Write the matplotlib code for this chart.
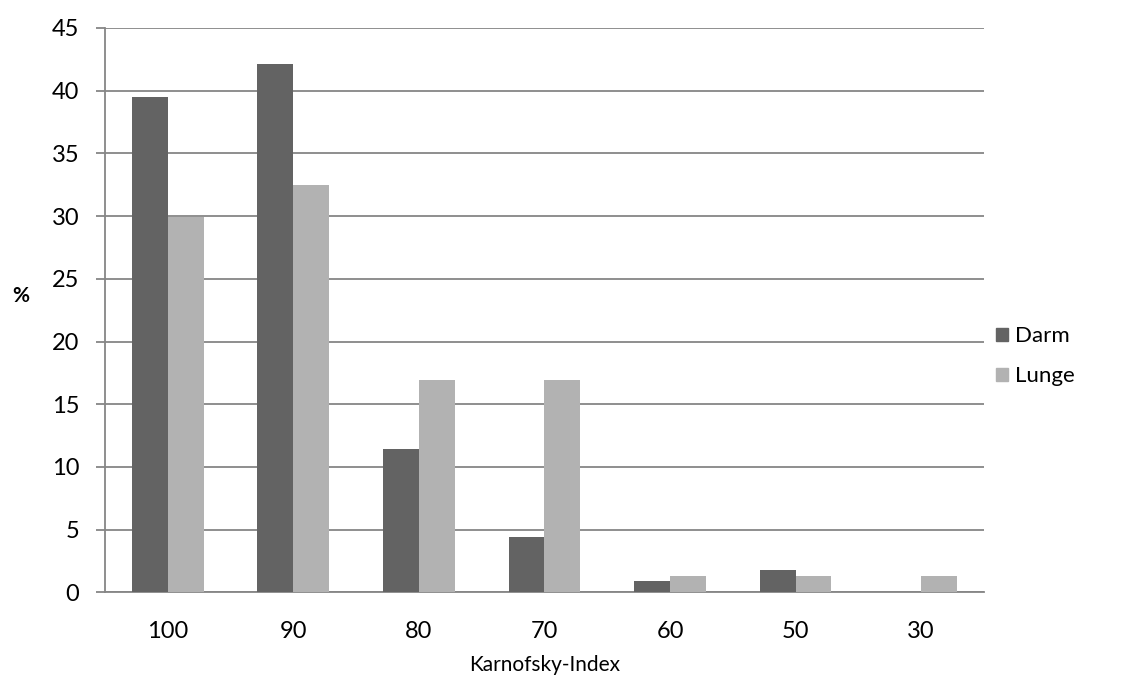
import numpy as np
import matplotlib.pyplot as plt
from matplotlib.patches import Patch

plt.rcParams['font.family'] = ['Lato', 'DejaVu Sans']

categories = ['100', '90', '80', '70', '60', '50', '30']
darm = [39.5, 42.1, 11.4, 4.4, 0.9, 1.8, 0.0]
lunge = [29.9, 32.5, 16.9, 16.9, 1.3, 1.3, 1.3]

col_darm = '#636363'
col_lunge = '#b2b2b2'
col_axis = '#868686'

fig = plt.figure(figsize=(11.31, 6.89), dpi=100)
ax = fig.add_axes([0.0928, 0.1403, 0.7772, 0.8191])

x = np.arange(len(categories))
w = 0.2857
ax.bar(x - w / 2, darm, w, color=col_darm, zorder=3)
ax.bar(x + w / 2, lunge, w, color=col_lunge, zorder=3)

ax.set_xlim(-0.5, len(categories) - 0.5)
ax.set_ylim(0, 45)
ax.set_yticks(np.arange(0, 46, 5))
ax.set_xticks(x)
ax.set_xticklabels(categories)
ax.yaxis.grid(True, color=col_axis, linewidth=1.3, zorder=0)

for side in ['top', 'right']:
    ax.spines[side].set_visible(False)
for side in ['left', 'bottom']:
    ax.spines[side].set_color(col_axis)
    ax.spines[side].set_linewidth(1.3)

ax.tick_params(axis='y', length=6.5, color=col_axis, width=1.3, labelsize=17, pad=12)
ax.tick_params(axis='x', length=0, labelsize=17, pad=21)

ax.set_xlabel('Karnofsky-Index', fontsize=15, labelpad=9)
fig.text(0.018, 0.57, '%', fontsize=15, fontweight='bold', ha='center', va='center')

handles = [Patch(color=col_darm, label='Darm'), Patch(color=col_lunge, label='Lunge')]
fig.legend(handles=handles, loc='center left', bbox_to_anchor=(0.863, 0.483),
           frameon=False, fontsize=16, handlelength=0.55, handleheight=0.55,
           handletextpad=0.3, labelspacing=0.9)

fig.savefig('out.png', dpi=100)
